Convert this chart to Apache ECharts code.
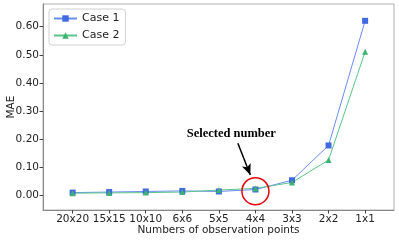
<!DOCTYPE html>
<html><head><meta charset="utf-8">
<script src="https://cdn.jsdelivr.net/npm/echarts@6/dist/echarts.min.js"></script>
<style>html,body{margin:0;padding:0;background:#fff}#c{width:399px;height:240px}</style>
</head><body><div id="c"></div>
<script>
const categories = ['20x20','15x15','10x10','6x6','5x5','4x4','3x3','2x2','1x1'];
const case1 = [0.009, 0.011, 0.013, 0.015, 0.013, 0.020, 0.053, 0.177, 0.621];
const case2 = [0.007, 0.008, 0.009, 0.011, 0.018, 0.024, 0.045, 0.125, 0.511];
const yTicks = [0, 0.1, 0.2, 0.3, 0.4, 0.5, 0.6];
const xTicks = categories.map((c, i) => i);

const chart = echarts.init(document.getElementById('c'), null, {renderer: 'canvas'});
const font = 'DejaVu Sans';
chart.setOption({
  animation: false,
  textStyle: {fontFamily: font},
  grid: {left: 43, right: 5, top: 4, bottom: 30, show: true, borderColor: '#b0b0b0', borderWidth: 1,
         containLabel: false, outerBoundsMode: 'none'},
  legend: {
    left: 49, top: 9, orient: 'vertical', itemWidth: 23, itemHeight: 8, itemGap: 6,
    borderColor: '#d0d0d0', borderWidth: 1, borderRadius: 3, padding: [4, 6, 4, 4],
    textStyle: {fontSize: 11, color: '#222', fontFamily: font},
    data: ['Case 1', 'Case 2']
  },
  xAxis: {
    type: 'value', min: -0.81, max: 8.79,
    name: 'Numbers of observation points', nameLocation: 'middle', nameGap: 15, nameMoveOverlap: false,
    nameTextStyle: {fontSize: 10.5, color: '#222'},
    axisLine: {show: true, onZero: false, lineStyle: {color: '#888'}},
    axisTick: {show: true, length: 3.5, customValues: xTicks, lineStyle: {color: '#444'}},
    axisLabel: {customValues: xTicks, formatter: v => categories[Math.round(v)], fontSize: 10.5, color: '#222', margin: 4},
    splitLine: {show: false}
  },
  yAxis: {
    type: 'value', min: -0.053, max: 0.681,
    name: 'MAE', nameLocation: 'middle', nameGap: 26, nameMoveOverlap: false,
    nameTextStyle: {fontSize: 10.5, color: '#222'},
    axisLine: {show: true, onZero: false, lineStyle: {color: '#888'}},
    axisTick: {show: true, length: 3.5, customValues: yTicks, lineStyle: {color: '#444'}},
    axisLabel: {customValues: yTicks, formatter: v => v.toFixed(2), fontSize: 10.5, color: '#222', margin: 4},
    splitLine: {show: false}
  },
  series: [
    {
      name: 'Case 1', type: 'line', data: case1.map((v, i) => [i, v]),
      symbol: 'rect', symbolSize: 6,
      itemStyle: {color: '#4169e1'}, lineStyle: {color: '#6a8cf0', width: 1}
    },
    {
      name: 'Case 2', type: 'line', data: case2.map((v, i) => [i, v]),
      symbol: 'triangle', symbolSize: 6,
      itemStyle: {color: '#3cb371'}, lineStyle: {color: '#5cc48a', width: 1},
      markPoint: {
        silent: true,
        data: [
          {coord: [5, 0.014], symbol: 'circle', symbolSize: 27,
           itemStyle: {color: 'rgba(0,0,0,0)', borderColor: '#e8000b', borderWidth: 1.5}, label: {show: false}},
          {coord: [4.34, 0.22], symbol: 'circle', symbolSize: 0,
           label: {show: true, position: 'inside', formatter: 'Selected number', fontFamily: 'Liberation Serif',
                   fontWeight: 'bold', fontSize: 12.5, color: '#000'}}
        ]
      },
      markLine: {
        silent: true, symbol: ['none', 'arrow'], symbolSize: [7, 11],
        label: {show: false},
        lineStyle: {color: '#000', width: 1.5, type: 'solid'},
        data: [[{coord: [4.52, 0.185]}, {coord: [4.86, 0.072]}]]
      }
    }
  ]
});
</script></body></html>
